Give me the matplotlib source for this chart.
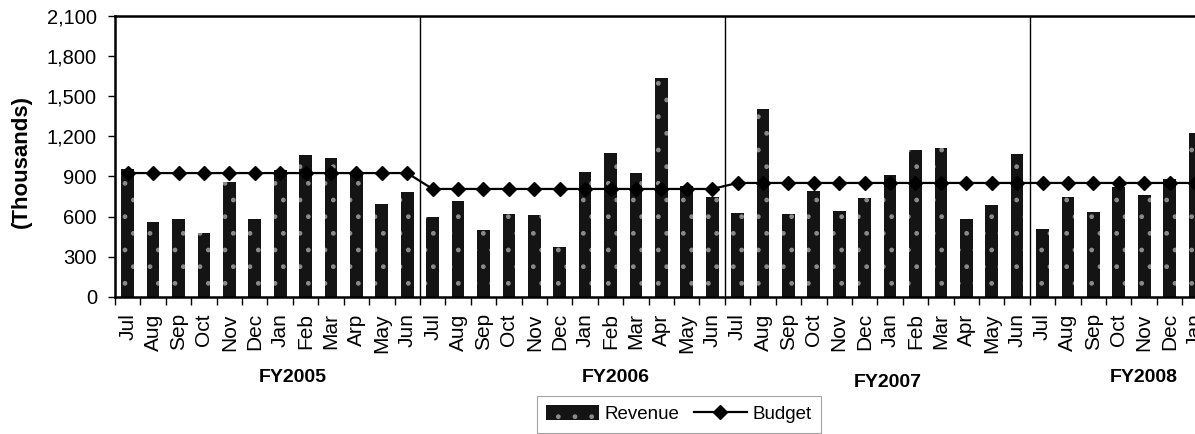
import matplotlib
matplotlib.use("Agg")
import matplotlib.pyplot as plt
import matplotlib.transforms as mtransforms
from matplotlib.ticker import FuncFormatter, FixedLocator
from matplotlib.patches import Patch
from matplotlib.lines import Line2D

plt.rcParams['font.family'] = ['Liberation Sans', 'DejaVu Sans']
plt.rcParams['hatch.linewidth'] = 1.0

# ---- data ----
months = ["Jul", "Aug", "Sep", "Oct", "Nov", "Dec", "Jan", "Feb", "Mar", "Arp", "May", "Jun",
          "Jul", "Aug", "Sep", "Oct", "Nov", "Dec", "Jan", "Feb", "Mar", "Apr", "May", "Jun",
          "Jul", "Aug", "Sep", "Oct", "Nov", "Dec", "Jan", "Feb", "Mar", "Apr", "May", "Jun",
          "Jul", "Aug", "Sep", "Oct", "Nov", "Dec", "Jan"]
revenue_fy2005 = [955, 560, 580, 475, 855, 585, 945, 1058, 1035, 925, 690, 780]
revenue_fy2006 = [594, 716, 499, 619, 614, 374, 933, 1073, 928, 1638, 830, 744]
revenue_fy2007 = [624, 1404, 616, 791, 639, 736, 908, 1095, 1115, 581, 686, 1064]
revenue_fy2008 = [510, 748, 632, 823, 764, 879, 1222]
budget_fy2005 = [925] * 12
budget_fy2006 = [806] * 12
budget_fy2007 = [851] * 12
budget_fy2008 = [851] * 7
fiscal_years = ["FY2005", "FY2006", "FY2007", "FY2008"]
yticks = [0, 300, 600, 900, 1200, 1500, 1800, 2100]

revenue = revenue_fy2005 + revenue_fy2006 + revenue_fy2007 + revenue_fy2008
budget = budget_fy2005 + budget_fy2006 + budget_fy2007 + budget_fy2008
x = list(range(len(revenue)))

W, H = 1195, 434
fig = plt.figure(figsize=(W / 100, H / 100), dpi=100)
ax = fig.add_axes([115 / W, 1 - 296.7 / H, 1 - 115 / W, (296.7 - 16) / H])

ax.bar(x, revenue, width=0.5, color="#141414", edgecolor="#8a8a8a",
       hatch=".", linewidth=0, zorder=2)
ax.plot(x, budget, color="black", lw=1.6, marker="D", ms=7,
        markerfacecolor="black", markeredgecolor="black", zorder=3)

ax.set_xlim(-0.5, 41.92)
ax.set_ylim(0, 2100)

# year separators
for sep in [11.5, 23.5, 35.5]:
    ax.axvline(sep, color="black", lw=1.0, zorder=1)

ax.spines["right"].set_visible(False)
for s in ["left", "top", "bottom"]:
    ax.spines[s].set_linewidth(1.8)

ax.set_yticks(yticks)
ax.yaxis.set_major_formatter(FuncFormatter(lambda v, p: f"{int(v):,}"))
ax.tick_params(axis="y", length=5, width=1, pad=8, labelsize=14.5, direction="out")

ax.xaxis.set_major_locator(FixedLocator([i - 0.5 for i in range(len(revenue) + 1)]))
ax.xaxis.set_minor_locator(FixedLocator(x))
ax.set_xticklabels([], minor=False)
ax.set_xticks(x, minor=True)
ax.set_xticklabels(months, minor=True, rotation=90, fontsize=15)
ax.tick_params(axis="x", which="major", length=6, width=1, direction="out")
ax.tick_params(axis="x", which="minor", length=0, pad=12)

fig.text(21 / W, 1 - 161.7 / H, "(Thousands)", rotation=90, ha="center", va="center",
         fontsize=16, fontweight="bold")

trans = mtransforms.blended_transform_factory(ax.transData, fig.transFigure)
fy_x = [6.48, 19.2, 29.9, 40.0]
fy_y = [1 - 377.5 / H, 1 - 378 / H, 1 - 382.5 / H, 1 - 378 / H]
for lab, xx, yy in zip(fiscal_years, fy_x, fy_y):
    ax.text(xx, yy, lab, transform=trans, ha="center", va="center",
            fontsize=14, fontweight="bold", clip_on=False)

handles = [Patch(facecolor="#141414", edgecolor="#8a8a8a", hatch=".", linewidth=0),
           Line2D([0], [0], color="black", lw=1.6, marker="D", ms=7)]
leg = fig.legend(handles, ["Revenue", "Budget"], loc="upper center",
                 bbox_to_anchor=(678.8 / W, 1 - 396 / H), ncol=2, fontsize=13.5,
                 frameon=True, fancybox=False, edgecolor="#8c8c8c",
                 handlelength=2.8, handleheight=0.85, handletextpad=0.3,
                 columnspacing=0.8, borderpad=0.5, borderaxespad=0)
leg.get_frame().set_linewidth(0.8)

fig.savefig("out.png", dpi=100)
